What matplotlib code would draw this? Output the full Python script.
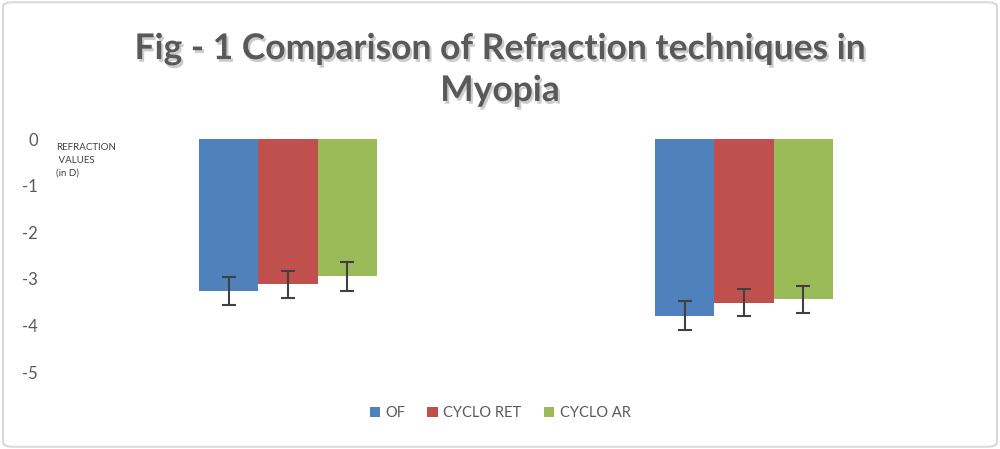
import matplotlib
matplotlib.use('Agg')
import matplotlib.pyplot as plt
import matplotlib.patheffects as pe
from matplotlib.patches import FancyBboxPatch, Patch
import numpy as np

# data
categories = ['Group 1', 'Group 2']
series = ['OF', 'CYCLO RET', 'CYCLO AR']
of_vals = [-3.27, -3.79]
ret_vals = [-3.12, -3.51]
ar_vals = [-2.95, -3.44]
of_err = [0.30, 0.31]
ret_err = [0.29, 0.29]
ar_err = [0.31, 0.29]
yticks = [0, -1, -2, -3, -4, -5]

colors = ['#4F81BD', '#C0504D', '#9BBB59']
plt.rcParams['font.family'] = ['Lato', 'DejaVu Sans']

fig = plt.figure(figsize=(10, 4.49), dpi=100)

# light grey chart border
border = FancyBboxPatch((0.003, 0.005), 0.994, 0.99, boxstyle='round,pad=0,rounding_size=0.01',
                        transform=fig.transFigure, fill=False, edgecolor='#D9D9D9', linewidth=1.5)
fig.patches.append(border)

ax = fig.add_axes([0.06, 1 - 372 / 449, 0.912, (372 - 139) / 449])

x = np.arange(len(categories))
w = 0.13
vals = [of_vals, ret_vals, ar_vals]
errs = [of_err, ret_err, ar_err]
for i, (v, e) in enumerate(zip(vals, errs)):
    ax.bar(x + (i - 1) * w, v, width=w, color=colors[i], label=series[i],
           yerr=e, error_kw=dict(ecolor='#404040', elinewidth=1.5, capsize=5, capthick=1.5))

ax.set_xlim(-0.5, 1.5)
ax.set_ylim(-5, 0)
ax.set_yticks(yticks)
ax.set_yticklabels([str(t) for t in yticks])
ax.set_xticks([])
for s in ax.spines.values():
    s.set_visible(False)
ax.tick_params(axis='y', length=0, labelsize=12, labelcolor='#595959', pad=16)

fig.text(0.056, 1 - 143 / 449, 'REFRACTION\n VALUES\n(in D)', fontsize=7, color='#404040',
         va='top', ha='left', linespacing=1.55)

title = fig.text(0.5, 1 - 70 / 449, 'Fig - 1 Comparison of Refraction techniques in\nMyopia',
                 ha='center', va='center', fontsize=25.5, fontweight='bold', color='#595959',
                 linespacing=1.38)
title.set_path_effects([pe.SimplePatchShadow(offset=(1.5, -2), shadow_rgbFace='#aaaaaa', alpha=0.6),
                        pe.Normal()])

handles = [Patch(facecolor=c) for c in colors]
fig.legend(handles, series, loc='center', bbox_to_anchor=(0.5, 1 - 413 / 449), ncol=3,
           frameon=False, fontsize=10.5, handlelength=0.7, handleheight=0.7,
           handletextpad=0.4, columnspacing=1.5, labelcolor='#595959')

fig.savefig('out.png', dpi=100)
